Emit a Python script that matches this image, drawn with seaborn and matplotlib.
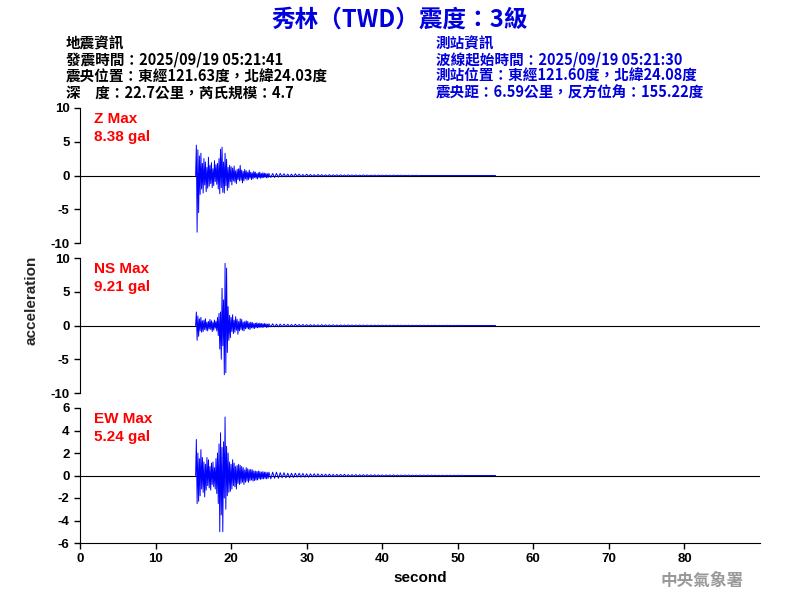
import numpy as np
import matplotlib
matplotlib.use("Agg")
import matplotlib.pyplot as plt
import seaborn as sns

sns.set_style("ticks")
plt.rcParams['font.family'] = ['Noto Sans CJK TC', 'DejaVu Sans']
plt.rcParams['axes.unicode_minus'] = False

# sample times (s): 0.1 s during strong motion, 0.25 s in the coda
t_strong = np.round(np.arange(15.3, 25.05, 0.1), 2)
t_tail = np.arange(25.25, 55.01, 0.25)

z_strong = [0, 4.5, -8.4, 3.8, -5.5, 2.9, -2.8, 3.3, -2.0, 1.8,
            -2.6, 2.5, -1.4, 2.0, -2.4, 1.2, -1.9, 2.7, -1.6, 1.5,
            -1.2, 1.9, -1.8, 1.0, -1.5, 2.2, -0.9, 1.6, -1.3, 1.8,
            -2.0, 2.5, -2.7, 3.9, -1.8, 4.2, -2.5, 2.0, -2.6, 3.3,
            -1.5, 2.4, -2.2, 1.2, -1.8, 1.5, -0.9, 1.3, -1.4, 1.1,
            -0.8, 1.4, -1.0, 0.7, -1.2, 0.9, -0.6, 1.0, -0.8, 1.5,
            -0.7, 0.8, -1.1, 0.6, -0.8, 0.9, -0.5, 0.7, -0.7, 0.5,
            -0.6, 0.8, -0.4, 0.5, -0.6, 0.4, -0.5, 0.6, -0.3, 0.5,
            -0.4, 0.3, -0.5, 0.4, -0.3, 0.5, -0.4, 0.3, -0.35, 0.4,
            -0.3, 0.35, -0.25, 0.3, -0.35, 0.25, -0.3, 0.3]
ns_strong = [0, 2.0, -2.2, 1.4, -1.6, 1.0, -0.8, 1.2, -1.0, 0.7,
             -0.9, 0.8, -0.6, 1.0, -0.7, 0.5, -0.8, 0.6, -0.5, 0.9,
             -0.6, 0.7, -0.9, 0.5, -0.7, 0.8, -0.4, 0.6, -0.8, 1.2,
             -1.5, 1.8, -3.5, 2.0, -5.0, 5.5, -3.0, 3.8, -7.3, 9.2,
             -7.0, 8.5, -4.0, 2.8, -2.2, 1.5, -1.8, 1.2, -0.9, 1.6,
             -1.2, 0.8, -1.0, 1.3, -0.7, 0.9, -1.3, 0.6, -0.8, 1.0,
             -0.6, 0.9, -0.7, 0.5, -0.8, 0.6, -0.5, 0.7, -0.4, 0.6,
             -0.5, 0.4, -0.6, 0.5, -0.35, 0.45, -0.4, 0.3, -0.45, 0.35,
             -0.3, 0.4, -0.35, 0.3, -0.3, 0.35, -0.25, 0.3, -0.3, 0.25,
             -0.25, 0.3, -0.2, 0.25, -0.3, 0.2, -0.25, 0.25]
ew_strong = [0, 3.2, -2.5, 2.0, -2.3, 1.5, -1.8, 2.3, -1.2, 1.6,
             -1.5, 1.2, -1.9, 1.0, -1.3, 1.6, -0.9, 1.4, -1.1, 0.8,
             -1.3, 1.1, -0.8, 1.2, -1.0, 0.7, -1.2, 1.5, -1.6, 2.0,
             -2.5, 2.8, -5.0, 3.8, -3.5, 2.5, -5.0, 3.0, -2.0, 5.2,
             -3.0, 2.6, -1.8, 2.0, -1.5, 1.2, -1.4, 1.0, -1.2, 1.4,
             -0.9, 1.1, -1.0, 0.8, -1.2, 0.9, -0.7, 1.0, -0.8, 0.9,
             -0.7, 0.8, -0.6, 0.7, -0.8, 0.5, -0.6, 0.7, -0.5, 0.6,
             -0.6, 0.5, -0.45, 0.55, -0.4, 0.5, -0.5, 0.4, -0.45, 0.4,
             -0.4, 0.35, -0.4, 0.4, -0.3, 0.35, -0.35, 0.3, -0.3, 0.35,
             -0.3, 0.3, -0.25, 0.3, -0.3, 0.25, -0.25, 0.3]

z_tail = [-0.3, 0.3, -0.3, 0.3, -0.25, 0.3, -0.2, 0.25,
          -0.2, 0.2, -0.2, 0.2, -0.2, 0.25, -0.15, 0.2,
          -0.15, 0.15, -0.15, 0.2, -0.12, 0.15, -0.12, 0.12,
          -0.12, 0.15, -0.1, 0.12, -0.1, 0.1, -0.1, 0.12,
          -0.1, 0.1, -0.08, 0.1, -0.08, 0.1, -0.08, 0.08,
          -0.08, 0.1, -0.06, 0.08, -0.06, 0.08, -0.06, 0.06,
          -0.05, 0.08, -0.05, 0.06, -0.05, 0.05, -0.05, 0.06,
          -0.05, 0.05, -0.04, 0.05, -0.04, 0.05, -0.04, 0.04,
          -0.04, 0.05, -0.03, 0.04, -0.03, 0.04, -0.03, 0.03,
          -0.03, 0.04, -0.03, 0.03, -0.02, 0.03, -0.02, 0.0,
          0.0, 0.0, 0.0, 0.0, 0.0, 0.0, 0.0, 0.0,
          0.0, 0.0, 0.0, 0.0, 0.0, 0.0, 0.0, 0.0,
          0.0, 0.0, 0.0, 0.0, 0.0, 0.0, 0.0, 0.0,
          0.0, 0.0, 0.0, 0.0, 0.0, 0.0, 0.0, 0.0,
          0.0, 0.0, 0.0, 0.0, 0.0, 0.0, 0.0, 0.0]
ns_tail = [-0.2, 0.25, -0.2, 0.2, -0.2, 0.2, -0.18, 0.2,
           -0.15, 0.18, -0.15, 0.15, -0.15, 0.18, -0.12, 0.15,
           -0.12, 0.15, -0.12, 0.12, -0.1, 0.12, -0.1, 0.12,
           -0.1, 0.1, -0.1, 0.12, -0.08, 0.1, -0.08, 0.1,
           -0.08, 0.1, -0.08, 0.08, -0.07, 0.08, -0.07, 0.08,
           -0.06, 0.08, -0.06, 0.07, -0.06, 0.06, -0.05, 0.07,
           -0.05, 0.06, -0.05, 0.06, -0.05, 0.05, -0.05, 0.05,
           -0.04, 0.05, -0.04, 0.05, -0.04, 0.04, -0.04, 0.05,
           -0.04, 0.04, -0.03, 0.04, -0.03, 0.04, -0.03, 0.03,
           -0.03, 0.04, -0.03, 0.03, -0.03, 0.03, -0.02, 0.03,
           -0.02, 0.03, -0.02, 0.03, -0.02, 0.02, -0.02, 0.03,
           -0.02, 0.02, -0.02, 0.02, -0.02, 0.03, -0.02, 0.02,
           -0.02, 0.02, -0.01, 0.02, -0.01, 0.02, -0.01, 0.0,
           0.0, 0.0, 0.0, 0.0, 0.0, 0.0, 0.0, 0.0,
           0.0, 0.0, 0.0, 0.0, 0.0, 0.0, 0.0, 0.0]
ew_tail = [-0.3, 0.3, -0.25, 0.3, -0.25, 0.25, -0.2, 0.25,
           -0.2, 0.2, -0.2, 0.2, -0.18, 0.2, -0.15, 0.2,
           -0.15, 0.18, -0.15, 0.15, -0.15, 0.15, -0.12, 0.15,
           -0.12, 0.15, -0.12, 0.12, -0.1, 0.12, -0.1, 0.12,
           -0.1, 0.1, -0.1, 0.1, -0.08, 0.1, -0.08, 0.1,
           -0.08, 0.08, -0.08, 0.08, -0.07, 0.08, -0.07, 0.07,
           -0.06, 0.07, -0.06, 0.07, -0.06, 0.06, -0.05, 0.06,
           -0.05, 0.06, -0.05, 0.05, -0.05, 0.05, -0.04, 0.05,
           -0.04, 0.05, -0.04, 0.04, -0.04, 0.04, -0.03, 0.04,
           -0.03, 0.04, -0.03, 0.03, -0.03, 0.03, -0.03, 0.03,
           -0.02, 0.03, -0.02, 0.03, -0.02, 0.03, -0.02, 0.02,
           -0.02, 0.02, -0.02, 0.02, -0.02, 0.02, -0.02, 0.02,
           -0.02, 0.02, -0.01, 0.02, -0.01, 0.02, -0.01, 0.0,
           0.0, 0.0, 0.0, 0.0, 0.0, 0.0, 0.0, 0.0,
           0.0, 0.0, 0.0, 0.0, 0.0, 0.0, 0.0, 0.0]

labels = ["Z Max\n8.38 gal", "NS Max\n9.21 gal", "EW Max\n5.24 gal"]
ylims = [10, 10, 6]
yticks = [[-10, -5, 0, 5, 10], [-10, -5, 0, 5, 10], [-6, -4, -2, 0, 2, 4, 6]]
bottoms = [0.595, 0.345, 0.095]
latin = ['Liberation Sans', 'DejaVu Sans']

t_all = np.concatenate([t_strong, t_tail])
traces = [z_strong + z_tail, ns_strong + ns_tail, ew_strong + ew_tail]

fig = plt.figure(figsize=(8, 6), dpi=100)
for vals, lab, lim, yt, b in zip(traces, labels, ylims, yticks, bottoms):
    ax = fig.add_axes([0.1, b, 0.85, 0.225])
    ax.axhline(0, color="black", lw=0.8)
    sns.lineplot(x=t_all, y=vals, ax=ax, color="blue", lw=0.7)
    ax.set_xlim(0, 90)
    ax.set_ylim(-lim, lim)
    ax.set_yticks(yt)
    ax.tick_params(labelsize=9.5, length=4, width=1, colors="black")
    for tl in ax.get_yticklabels():
        tl.set_fontweight("bold")
        tl.set_family(latin)
    for s in ["top", "right"]:
        ax.spines[s].set_visible(False)
    ax.spines["left"].set_color("black")
    ax.text(0.02, 0.97, lab, transform=ax.transAxes, color="red", fontsize=11,
            fontweight="bold", va="top", linespacing=1.4, family=latin)
    if b > 0.1:
        ax.spines["bottom"].set_visible(False)
        ax.set_xticks([])
    else:
        ax.spines["bottom"].set_color("black")
        ax.set_xticks(range(0, 90, 10))
        for tl in ax.get_xticklabels():
            tl.set_fontweight("bold")
            tl.set_family(latin)
        ax.set_xlabel("second", fontsize=11, fontweight="bold", family=latin, color="black")

fig.text(0.04, 0.5, "acceleration", rotation=90, va="center", ha="center",
         fontsize=11, fontweight="bold", family=latin)

fig.text(0.5, 0.968, "秀林（TWD）震度：3級", ha="center", va="center",
         fontsize=17, fontweight="bold", color="#0000dd")

left_info = ["地震資訊", "發震時間：2025/09/19 05:21:41",
             "震央位置：東經121.63度，北緯24.03度", "深　度：22.7公里，芮氏規模：4.7"]
right_info = ["測站資訊", "波線起始時間：2025/09/19 05:21:30",
              "測站位置：東經121.60度，北緯24.08度", "震央距：6.59公里，反方位角：155.22度"]
for i, (l, r) in enumerate(zip(left_info, right_info)):
    y = 0.928 - i * 0.0275
    fig.text(0.082, y, l, fontsize=10.5, fontweight="bold", color="black", va="center")
    fig.text(0.545, y, r, fontsize=10.5, fontweight="bold", color="#0000dd", va="center")

fig.text(0.93, 0.032, "中央氣象署", ha="right", va="center", fontsize=12,
         fontweight="bold", color="#999999")

fig.savefig("out.png", dpi=100)
